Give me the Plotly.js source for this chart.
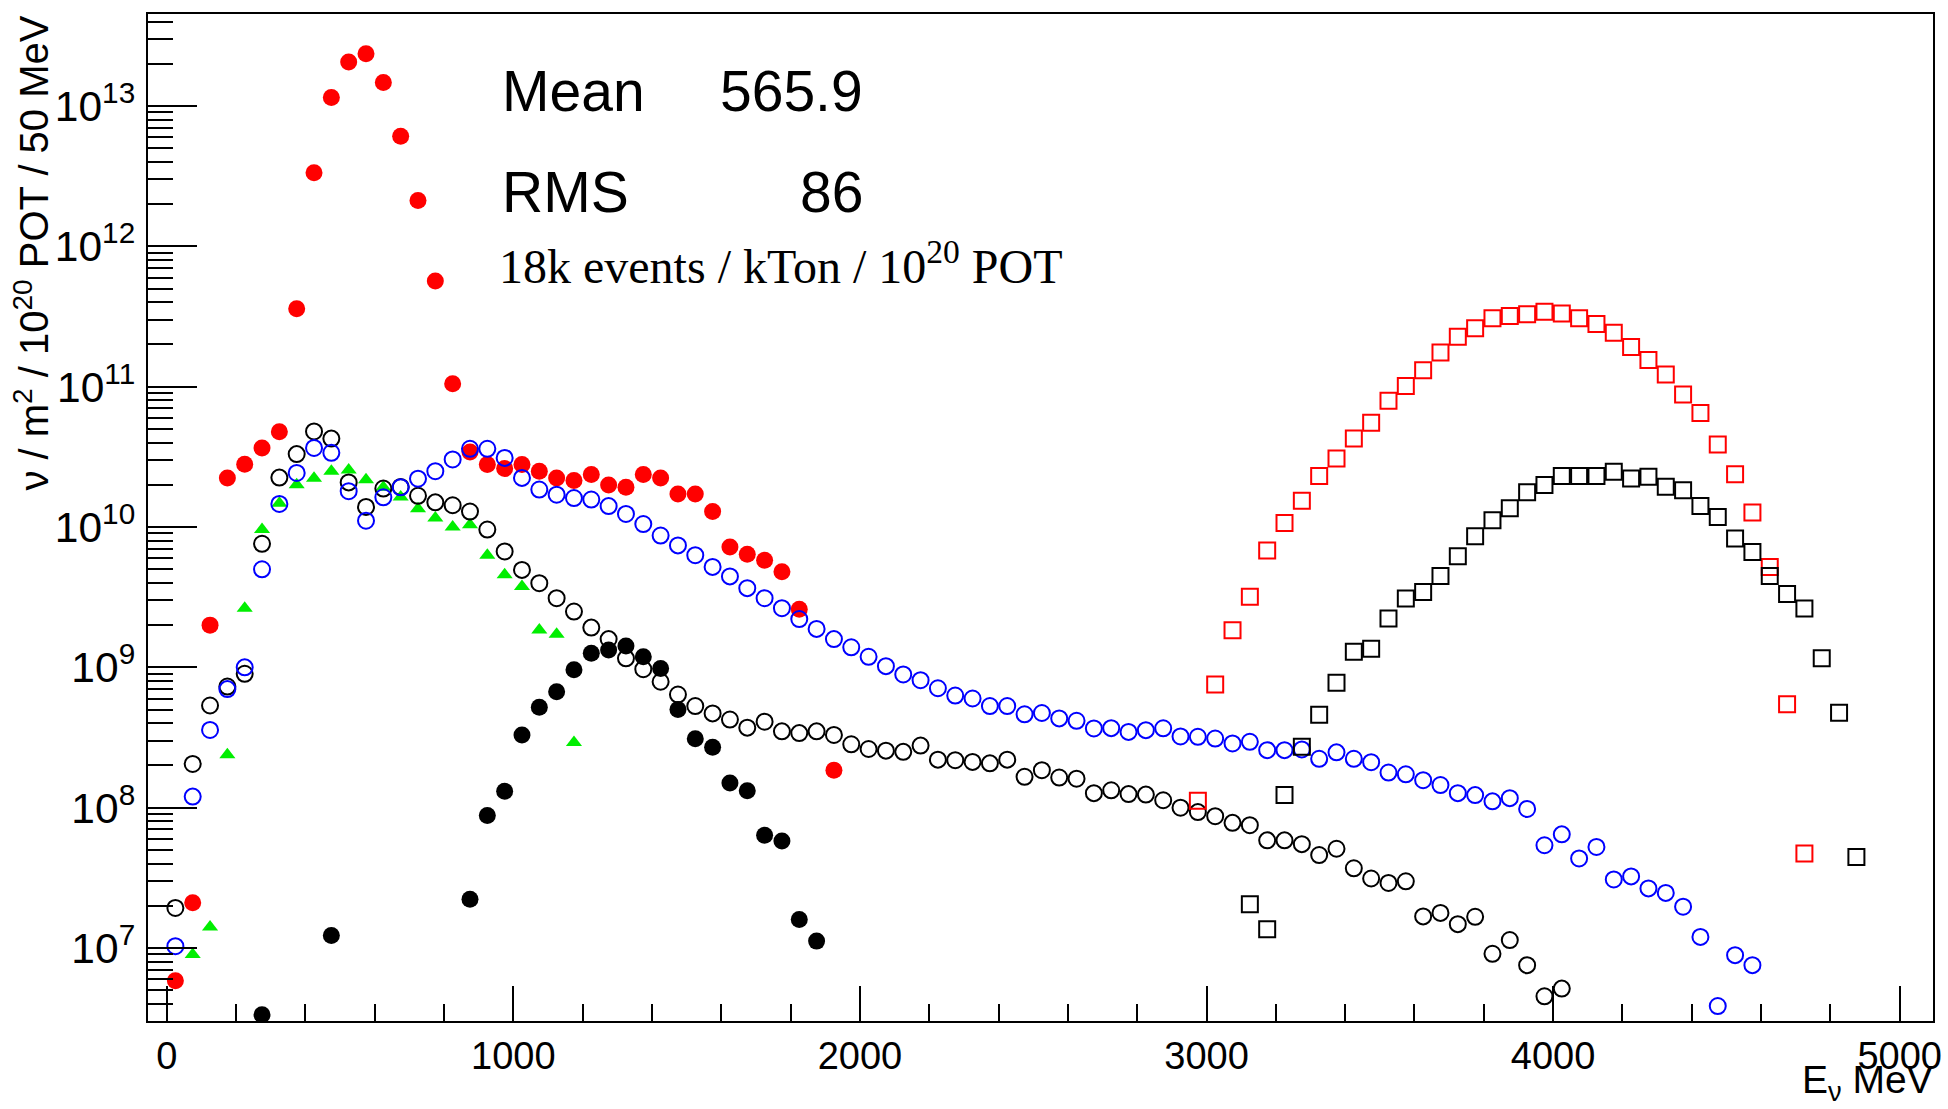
<!DOCTYPE html>
<html>
<head>
<meta charset="utf-8">
<script src="https://cdn.plot.ly/plotly-3.0.1.min.js"></script>
<style>
  html, body { margin: 0; padding: 0; background: #ffffff; }
  #chart { width: 1948px; height: 1109px; }
</style>
</head>
<body>
<div id="chart"></div>
<script>
// ---------------- data (bin centres in MeV, flux per bin) ----------------
const redFilledE = [25,75,125,175,225,275,325,375,425,475,525,575,625,675,725,775,825,875,925,975,1025,1075,1125,1175,1225,1275,1325,1375,1425,1475,1525,1575,1625,1675,1725,1775,1825,1925];
const redFilledV = [5.85e6,2.1e7,2.0e9,2.24e10,2.8e10,3.66e10,4.77e10,3.6e11,3.35e12,1.15e13,2.06e13,2.36e13,1.47e13,6.1e12,2.12e12,5.66e11,1.05e11,3.43e10,2.79e10,2.61e10,2.79e10,2.5e10,2.24e10,2.15e10,2.37e10,1.99e10,1.92e10,2.37e10,2.24e10,1.72e10,1.72e10,1.29e10,7.2e9,6.4e9,5.8e9,4.8e9,2.6e9,1.85e8];

const greenE = [75,125,175,225,275,325,375,425,475,525,575,625,675,725,775,825,875,925,975,1025,1075,1125,1175];
const greenV = [9.0e6,1.41e7,2.38e8,2.64e9,9.6e9,1.48e10,2.0e10,2.23e10,2.5e10,2.55e10,2.17e10,1.92e10,1.64e10,1.35e10,1.16e10,1.0e10,1.04e10,6.3e9,4.57e9,3.77e9,1.85e9,1.72e9,2.91e8];

const blackFilledE = [275,475,875,925,975,1025,1075,1125,1175,1225,1275,1325,1375,1425,1475,1525,1575,1625,1675,1725,1775,1825,1875];
const blackFilledV = [3.35e6,1.23e7,2.23e7,8.8e7,1.31e8,3.3e8,5.2e8,6.7e8,9.6e8,1.26e9,1.33e9,1.42e9,1.19e9,9.8e8,5.0e8,3.1e8,2.7e8,1.5e8,1.32e8,6.37e7,5.8e7,1.6e7,1.12e7];

const blackOpenE = [25,75,125,175,225,275,325,375,425,475,525,575,625,675,725,775,825,875,925,975,
  1025,1075,1125,1175,1225,1275,1325,1375,1425,1475,1525,1575,1625,1675,1725,1775,1825,1875,1925,1975,
  2025,2075,2125,2175,2225,2275,2325,2375,2425,2475,2525,2575,2625,2675,2725,2775,2825,2875,2925,2975,
  3025,3075,3125,3175,3225,3275,3325,3375,3425,3475,3525,3575,3625,3675,3725,3775,3825,3875,3925,3975,4025];
const blackOpenV = [1.93e7,2.05e8,5.35e8,7.3e8,9.0e8,7.6e9,2.25e10,3.31e10,4.8e10,4.27e10,2.08e10,1.39e10,1.88e10,1.93e10,1.67e10,1.5e10,1.43e10,1.29e10,9.6e9,6.7e9,
  4.95e9,3.98e9,3.11e9,2.5e9,1.92e9,1.59e9,1.16e9,9.7e8,7.9e8,6.4e8,5.3e8,4.7e8,4.25e8,3.72e8,4.1e8,3.5e8,3.4e8,3.5e8,3.3e8,2.83e8,
  2.62e8,2.55e8,2.5e8,2.77e8,2.2e8,2.18e8,2.12e8,2.07e8,2.2e8,1.66e8,1.85e8,1.64e8,1.61e8,1.27e8,1.33e8,1.25e8,1.24e8,1.13e8,1.0e8,9.3e7,
  8.7e7,7.8e7,7.5e7,5.85e7,5.85e7,5.5e7,4.6e7,5.1e7,3.7e7,3.13e7,2.91e7,2.99e7,1.68e7,1.78e7,1.48e7,1.67e7,9.1e6,1.14e7,7.55e6,4.53e6,5.14e6];

const blueOpenE = [25,75,125,175,225,275,325,375,425,475,525,575,625,675,725,775,825,875,925,975,
  1025,1075,1125,1175,1225,1275,1325,1375,1425,1475,1525,1575,1625,1675,1725,1775,1825,1875,1925,1975,
  2025,2075,2125,2175,2225,2275,2325,2375,2425,2475,2525,2575,2625,2675,2725,2775,2825,2875,2925,2975,
  3025,3075,3125,3175,3225,3275,3325,3375,3425,3475,3525,3575,3625,3675,3725,3775,3825,3875,3925,3975,
  4025,4075,4125,4175,4225,4275,4325,4375,4425,4475,4525,4575];
const blueOpenV = [1.03e7,1.2e8,3.58e8,7.0e8,1.0e9,5.0e9,1.46e10,2.43e10,3.66e10,3.38e10,1.8e10,1.11e10,1.63e10,1.92e10,2.21e10,2.5e10,3.03e10,3.61e10,3.61e10,3.11e10,
  2.24e10,1.85e10,1.7e10,1.61e10,1.57e10,1.41e10,1.24e10,1.05e10,8.7e9,7.4e9,6.3e9,5.2e9,4.45e9,3.67e9,3.11e9,2.64e9,2.21e9,1.88e9,1.59e9,1.39e9,
  1.19e9,1.02e9,8.9e8,8.1e8,7.1e8,6.3e8,6.0e8,5.3e8,5.3e8,4.63e8,4.73e8,4.33e8,4.16e8,3.67e8,3.69e8,3.47e8,3.57e8,3.68e8,3.22e8,3.2e8,
  3.11e8,2.87e8,2.95e8,2.57e8,2.57e8,2.6e8,2.23e8,2.48e8,2.23e8,2.11e8,1.78e8,1.73e8,1.57e8,1.45e8,1.27e8,1.23e8,1.11e8,1.17e8,9.8e7,5.4e7,
  6.46e7,4.35e7,5.25e7,3.08e7,3.24e7,2.66e7,2.47e7,1.97e7,1.2e7,3.86e6,8.9e6,7.55e6];

const redSquareE = [2975,3025,3075,3125,3175,3225,3275,3325,3375,3425,3475,3525,3575,3625,3675,3725,3775,3825,3875,3925,3975,4025,4075,4125,4175,4225,4275,4325,4375,4425,4475,4525,4575,4625,4675,4725];
const redSquareV = [1.12e8,7.55e8,1.84e9,3.18e9,6.8e9,1.07e10,1.54e10,2.31e10,3.08e10,4.28e10,5.53e10,7.95e10,1.01e11,1.31e11,1.75e11,2.27e11,2.61e11,3.07e11,3.19e11,3.29e11,3.42e11,3.33e11,3.07e11,2.8e11,2.42e11,1.92e11,1.55e11,1.22e11,8.8e10,6.5e10,3.88e10,2.38e10,1.27e10,5.2e9,5.45e8,4.72e7];

const blackSquareE = [3125,3175,3225,3275,3325,3375,3425,3475,3525,3575,3625,3675,3725,3775,3825,3875,3925,3975,4025,4075,4125,4175,4225,4275,4325,4375,4425,4475,4525,4575,4625,4675,4725,4775,4825,4875];
const blackSquareV = [2.05e7,1.36e7,1.23e8,2.72e8,4.6e8,7.76e8,1.29e9,1.36e9,2.23e9,3.1e9,3.45e9,4.47e9,6.2e9,8.6e9,1.12e10,1.36e10,1.77e10,1.99e10,2.31e10,2.31e10,2.31e10,2.48e10,2.22e10,2.28e10,1.94e10,1.83e10,1.41e10,1.18e10,8.3e9,6.65e9,4.47e9,3.33e9,2.63e9,1.16e9,4.74e8,4.46e7];

// ---------------- texts ----------------
const statLabels = ["Mean", "RMS"];
const statValues = ["565.9", "86"];
const noteText = "18k events / kTon / 10<sup>20</sup> POT";
const yTitle = "ν / m<sup>2</sup> / 10<sup>20</sup> POT / 50 MeV";
const xTitle = "E<sub>ν</sub> MeV";

// ---------------- traces ----------------
function pts(x, y, symbol, color, size, lw) {
  return {
    x: x, y: y, type: 'scatter', mode: 'markers', hoverinfo: 'skip',
    marker: { symbol: symbol, color: color, size: size,
              line: { color: color, width: lw } }
  };
}
const traces = [
  pts(redFilledE, redFilledV, 'circle', '#ff0000', 17, 0),
  pts(blackFilledE, blackFilledV, 'circle', '#000000', 17, 0),
  pts(greenE, greenV, 'triangle-up', '#00ee00', 14, 0),
  pts(blackOpenE, blackOpenV, 'circle-open', '#000000', 16, 2),
  pts(blueOpenE, blueOpenV, 'circle-open', '#0000ff', 16, 2),
  pts(redSquareE, redSquareV, 'square-open', '#ff0000', 16, 2),
  pts(blackSquareE, blackSquareV, 'square-open', '#000000', 16, 2)
];

const SANS = 'Liberation Sans, Arial, sans-serif';
const SERIF = 'Liberation Serif, Times New Roman, serif';

const annotations = [
  { text: statLabels[0], xref: 'paper', yref: 'paper', x: 0.197, y: 0.9235, xanchor: 'left', yanchor: 'middle', showarrow: false, font: { family: SANS, size: 57, color: '#000' } },
  { text: statValues[0], xref: 'paper', yref: 'paper', x: 0.4015, y: 0.9235, xanchor: 'right', yanchor: 'middle', showarrow: false, font: { family: SANS, size: 57, color: '#000' } },
  { text: statLabels[1], xref: 'paper', yref: 'paper', x: 0.197, y: 0.8232, xanchor: 'left', yanchor: 'middle', showarrow: false, font: { family: SANS, size: 57, color: '#000' } },
  { text: statValues[1], xref: 'paper', yref: 'paper', x: 0.4015, y: 0.8232, xanchor: 'right', yanchor: 'middle', showarrow: false, font: { family: SANS, size: 57, color: '#000' } },
  { text: noteText, xref: 'paper', yref: 'paper', x: 0.1955, y: 0.7527, xanchor: 'left', yanchor: 'middle', showarrow: false, font: { family: SERIF, size: 48, color: '#000' } },
  { text: yTitle, xref: 'paper', yref: 'paper', x: -0.0655, y: 1.0, xanchor: 'center', yanchor: 'top', textangle: -90, showarrow: false, font: { family: SANS, size: 40, color: '#000' } },
  { text: xTitle, xref: 'paper', yref: 'paper', x: 1.001, y: -0.035, xanchor: 'right', yanchor: 'top', showarrow: false, font: { family: SANS, size: 39, color: '#000' } }
];

const layout = {
  width: 1948, height: 1109,
  margin: { l: 148, r: 15, t: 14, b: 88, pad: 0 },
  paper_bgcolor: '#ffffff', plot_bgcolor: '#ffffff',
  showlegend: false,
  font: { family: SANS, color: '#000000', size: 38 },
  xaxis: {
    range: [-54, 5096], showgrid: false, zeroline: false,
    showline: true, linecolor: '#000000', linewidth: 2, mirror: true,
    ticks: 'inside', ticklen: 35, tickwidth: 2, tickcolor: '#000000',
    tick0: 0, dtick: 1000,
    tickfont: { family: SANS, size: 38, color: '#000' },
    minor: { ticks: 'inside', tick0: 0, dtick: 200, ticklen: 17, tickwidth: 2, tickcolor: '#000000', showgrid: false }
  },
  yaxis: {
    type: 'log', range: [6.48, 13.656], showgrid: false, zeroline: false,
    showline: true, linecolor: '#000000', linewidth: 2, mirror: true,
    ticks: 'inside', ticklen: 49, tickwidth: 2, tickcolor: '#000000',
    dtick: 1, exponentformat: 'power',
    ticklabelstandoff: 4,
    tickfont: { family: SANS, size: 34, color: '#000' },
    minor: { ticks: 'inside', dtick: 'D1', ticklen: 25, tickwidth: 2, tickcolor: '#000000', showgrid: false }
  },
  annotations: annotations
};

Plotly.newPlot('chart', traces, layout, { displayModeBar: false, staticPlot: true });
</script>
</body>
</html>
